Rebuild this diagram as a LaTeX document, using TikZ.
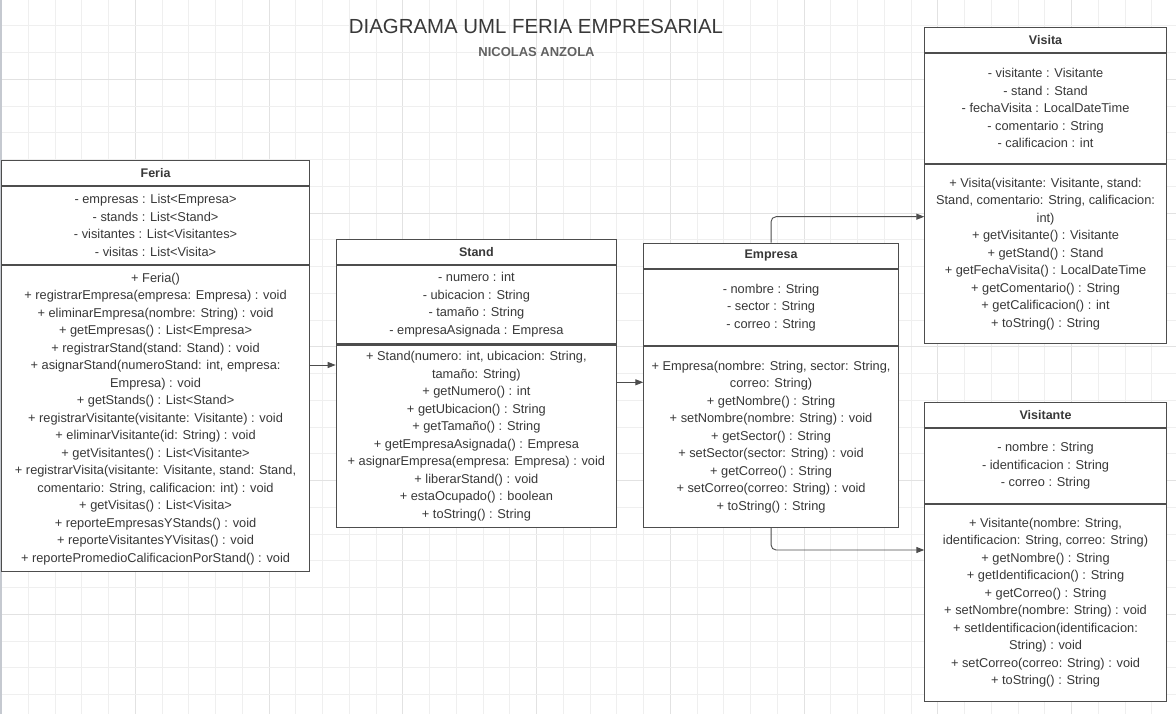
\documentclass[tikz,border=0pt]{standalone}
\usepackage{fontspec}
\setmainfont{Liberation Sans}
\usetikzlibrary{arrows.meta}
\definecolor{txt}{HTML}{383838}
\definecolor{edge}{HTML}{4D4D4D}
\definecolor{gridminor}{HTML}{EFEFEF}
\definecolor{gridmajor}{HTML}{E2E2E2}
\definecolor{sidebar}{HTML}{C5C9D0}
\begin{document}
\begin{tikzpicture}[x=1pt,y=-1pt,
  hdr/.style={draw=edge, line width=1.1pt, fill=white, inner sep=0pt, anchor=north west, font=\fontsize{12.5}{15}\selectfont\bfseries, text=txt},
  cmp/.style={draw=edge, line width=1.1pt, fill=white, inner sep=0pt, anchor=north west, align=center, font=\fontsize{12.8}{17.5}\selectfont, text=txt},
  conn/.style={draw=edge, line width=0.9pt, -{Triangle[length=8pt,width=6pt]}, rounded corners=5pt},
  ttl/.style={font=\fontsize{20.4}{24}\selectfont, text=txt, anchor=base, inner sep=0pt},
  subttl/.style={font=\fontsize{13}{16}\selectfont\bfseries, text=black!62, anchor=base, inner sep=0pt}]
\useasboundingbox[fill=white] (0,0) rectangle (1176,714);
% grid
\foreach \i in {0,...,44} {
  \pgfmathsetmacro{\xx}{1.5+26.75*\i}
  \pgfmathtruncatemacro{\mm}{mod(\i,5)}
  \ifnum\mm=0 \draw[gridmajor, line width=0.8pt] (\xx,0) -- (\xx,714);
  \else \draw[gridminor, line width=0.8pt] (\xx,0) -- (\xx,714); \fi
}
\foreach \j in {1,...,27} {
  \pgfmathsetmacro{\yy}{-1+26.75*\j}
  \pgfmathtruncatemacro{\mm}{mod(\j,5)}
  \ifnum\mm=3 \draw[gridmajor, line width=0.8pt] (0,\yy) -- (1176,\yy);
  \else \draw[gridminor, line width=0.8pt] (0,\yy) -- (1176,\yy); \fi
}
\fill[sidebar] (0,0) rectangle (2,714);

% title
\node[ttl] (title) at (536,34) {DIAGRAMA UML FERIA EMPRESARIAL};
\node[subttl] (author) at (536.5,56.7) {NICOLAS ANZOLA};

% Feria
\node[hdr, minimum width=308pt, minimum height=25pt] (feriaH) at (1,160) {Feria};
\node[cmp, minimum width=308pt, minimum height=78pt] (feriaA) at (feriaH.south west) {- empresas : List<Empresa>\\- stands : List<Stand>\\- visitantes : List<Visitantes>\\- visitas : List<Visita>};
\node[cmp, minimum width=308pt, minimum height=306pt] (feriaM) at (feriaA.south west) {+ Feria()\\+ registrarEmpresa(empresa: Empresa) : void\\+ eliminarEmpresa(nombre: String) : void\\+ getEmpresas() : List<Empresa>\\+ registrarStand(stand: Stand) : void\\+ asignarStand(numeroStand: int, empresa:\\Empresa) : void\\+ getStands() : List<Stand>\\+ registrarVisitante(visitante: Visitante) : void\\+ eliminarVisitante(id: String) : void\\+ getVisitantes() : List<Visitante>\\+ registrarVisita(visitante: Visitante, stand: Stand,\\comentario: String, calificacion: int) : void\\+ getVisitas() : List<Visita>\\+ reporteEmpresasYStands() : void\\+ reporteVisitantesYVisitas() : void\\+ reportePromedioCalificacionPorStand() : void};

% Stand
\node[hdr, minimum width=280.3pt, minimum height=24.7pt] (standH) at (335.7,239.3) {Stand};
\node[cmp, minimum width=280.3pt, minimum height=78.3pt] (standA) at (standH.south west) {- numero : int\\- ubicacion : String\\- tamaño : String\\- empresaAsignada : Empresa};
\node[cmp, minimum width=280.3pt, minimum height=182.4pt] (standM) at (standA.south west) {+ Stand(numero: int, ubicacion: String,\\tamaño: String)\\+ getNumero() : int\\+ getUbicacion() : String\\+ getTamaño() : String\\+ getEmpresaAsignada() : Empresa\\+ asignarEmpresa(empresa: Empresa) : void\\+ liberarStand() : void\\+ estaOcupado() : boolean\\+ toString() : String};

% Empresa
\node[hdr, minimum width=254.4pt, minimum height=25pt] (empH) at (643.3,242.7) {Empresa};
\node[cmp, minimum width=254.4pt, minimum height=76.3pt] (empA) at (empH.south west) {- nombre : String\\- sector : String\\- correo : String};
\node[cmp, minimum width=254.4pt, minimum height=180.7pt] (empM) at (empA.south west) {+ Empresa(nombre: String, sector: String,\\correo: String)\\+ getNombre() : String\\+ setNombre(nombre: String) : void\\+ getSector() : String\\+ setSector(sector: String) : void\\+ getCorreo() : String\\+ setCorreo(correo: String) : void\\+ toString() : String};

% Visita
\node[hdr, minimum width=241.4pt, minimum height=25pt] (visH) at (924.3,26.7) {Visita};
\node[cmp, minimum width=241.4pt, minimum height=110pt] (visA) at (visH.south west) {- visitante : Visitante\\- stand : Stand\\- fechaVisita : LocalDateTime\\- comentario : String\\- calificacion : int};
\node[cmp, minimum width=241.4pt, minimum height=179.3pt] (visM) at (visA.south west) {+ Visita(visitante: Visitante, stand:\\Stand, comentario: String, calificacion:\\int)\\+ getVisitante() : Visitante\\+ getStand() : Stand\\+ getFechaVisita() : LocalDateTime\\+ getComentario() : String\\+ getCalificacion() : int\\+ toString() : String};

% Visitante
\node[hdr, minimum width=241.4pt, minimum height=25pt] (vstH) at (924.3,401.7) {Visitante};
\node[cmp, minimum width=241.4pt, minimum height=75pt] (vstA) at (vstH.south west) {- nombre : String\\- identificacion : String\\- correo : String};
\node[cmp, minimum width=241.4pt, minimum height=196.6pt] (vstM) at (vstA.south west) {+ Visitante(nombre: String,\\identificacion: String, correo: String)\\+ getNombre() : String\\+ getIdentificacion() : String\\+ getCorreo() : String\\+ setNombre(nombre: String) : void\\+ setIdentificacion(identificacion:\\String) : void\\+ setCorreo(correo: String) : void\\+ toString() : String};

% connectors
\coordinate (lv1) at (0,365);
\coordinate (lv2) at (0,382.3);
\coordinate (lv3) at (0,216.7);
\coordinate (lv4) at (0,550);
\draw[conn] (feriaM.east |- lv1) -- (standM.west |- lv1);
\draw[conn] (standM.east |- lv2) -- (empM.west |- lv2);
\draw[conn] (empH.north) |- (visM.west |- lv3);
\draw[conn] (empM.south) |- (vstM.west |- lv4);
\end{tikzpicture}
\end{document}
